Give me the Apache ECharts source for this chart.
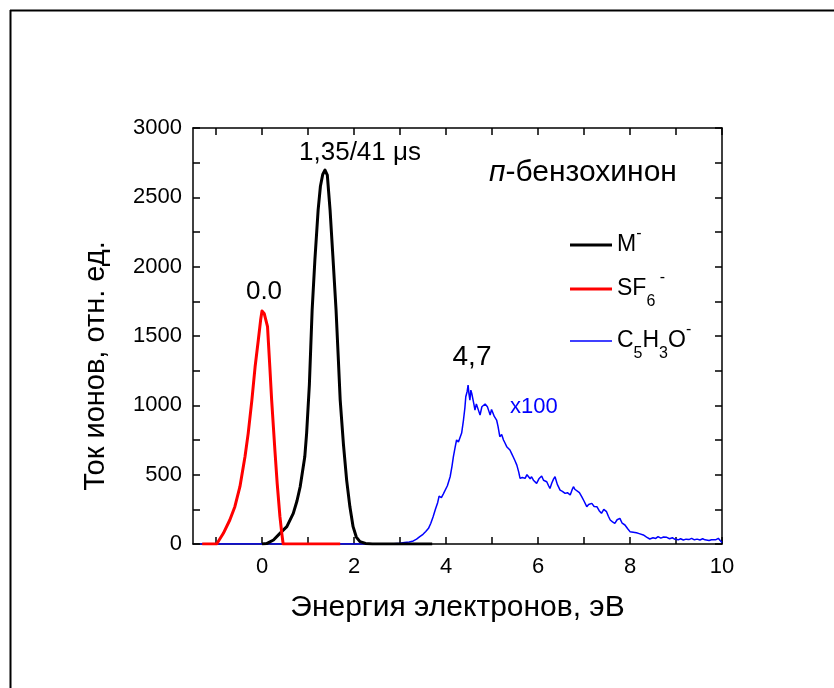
<!DOCTYPE html>
<html>
<head>
<meta charset="utf-8">
<script src="https://cdn.jsdelivr.net/npm/echarts@6/dist/echarts.min.js"></script>
<style>
html,body{margin:0;padding:0;background:#fff;}
#c{width:834px;height:688px;}
</style>
</head>
<body>
<div id="c"></div>
<script>
// ---- data ----
var xTickValues = [-1,0,1,2,3,4,5,6,7,8,9,10];
var xLabelValues = [0,2,4,6,8,10];
var yTickValues = [0,250,500,750,1000,1250,1500,1750,2000,2250,2500,2750,3000];
var yLabelValues = [0,500,1000,1500,2000,2500,3000];

var seriesNames = ['M', 'SF6', 'C5H3O'];

var mData = [[0,0],[0.1,3],[0.25,29],[0.4,80],[0.54,125],[0.68,221],[0.76,310],[0.83,413],[0.93,629],[0.97,798],[1.03,1150],[1.06,1420],[1.09,1687],[1.15,2050],[1.22,2408],[1.27,2580],[1.32,2665],[1.37,2697],[1.42,2660],[1.48,2408],[1.54,2080],[1.61,1687],[1.66,1330],[1.7,1038],[1.77,720],[1.84,461],[1.91,270],[1.98,125],[2.05,50],[2.13,17],[2.25,4],[2.4,0],[3.7,0]];

var sf6Data = [[-1.3,0],[-0.985,0],[-0.84,77],[-0.7,173],[-0.59,269],[-0.48,413],[-0.37,629],[-0.3,798],[-0.22,1038],[-0.15,1278],[-0.08,1471],[-0.03,1615],[0.0,1680],[0.05,1660],[0.12,1567],[0.17,1278],[0.21,1038],[0.28,678],[0.33,437],[0.39,197],[0.43,77],[0.46,0],[1.7,0]];

var c5Data = [[-1.35,0],[2.8,0],[3.0,5],[3.1,10],[3.2,15],[3.29,22],[3.36,35],[3.43,53],[3.5,70],[3.56,90],[3.62,113],[3.67,150],[3.72,197],[3.77,250],[3.82,300],[3.85,345],[3.9,335],[3.94,360],[3.98,353],[4.03,420],[4.09,485],[4.13,560],[4.16,629],[4.2,700],[4.23,750],[4.27,735],[4.30,726],[4.34,800],[4.38,894],[4.41,980],[4.43,1062],[4.46,1100],[4.48,1146],[4.5,1080],[4.52,1038],[4.54,1110],[4.56,1086],[4.6,1020],[4.63,966],[4.66,1010],[4.68,1002],[4.71,960],[4.74,930],[4.78,990],[4.81,1002],[4.85,1010],[4.9,990],[4.93,960],[4.96,930],[4.99,970],[5.01,954],[5.05,920],[5.1,894],[5.13,850],[5.17,774],[5.21,790],[5.25,750],[5.28,730],[5.32,702],[5.35,690],[5.39,678],[5.43,650],[5.46,629],[5.5,600],[5.54,569],[5.58,520],[5.61,473],[5.66,480],[5.72,473],[5.76,500],[5.79,509],[5.83,470],[5.86,485],[5.9,460],[5.94,450],[5.97,437],[6.02,470],[6.08,490],[6.12,460],[6.16,470],[6.19,449],[6.23,420],[6.26,401],[6.3,440],[6.34,470],[6.37,485],[6.42,430],[6.48,389],[6.53,380],[6.59,365],[6.64,370],[6.7,353],[6.74,390],[6.77,413],[6.8,395],[6.84,401],[6.9,370],[6.95,341],[7.0,310],[7.06,269],[7.1,285],[7.17,293],[7.22,270],[7.28,269],[7.33,240],[7.38,221],[7.43,250],[7.49,233],[7.53,200],[7.57,173],[7.62,160],[7.67,149],[7.72,175],[7.78,185],[7.83,150],[7.89,137],[7.95,110],[8.0,89],[8.07,85],[8.14,81],[8.2,75],[8.29,65],[8.36,50],[8.43,36],[8.5,45],[8.56,40],[8.61,53],[8.67,42],[8.73,50],[8.8,48],[8.86,38],[8.92,45],[8.98,34],[9.05,30],[9.1,38],[9.16,29],[9.22,35],[9.28,32],[9.34,41],[9.4,30],[9.46,35],[9.52,29],[9.58,38],[9.63,30],[9.67,34],[9.72,25],[9.77,30],[9.81,17],[9.86,30],[9.92,41],[9.96,25],[10.0,10]];

var FONT = '"Liberation Sans", Arial, Helvetica, sans-serif';

var chart = echarts.init(document.getElementById('c'), null, {renderer:'canvas'});

var legendRich = {
  base: {fontSize: 23, fontFamily: FONT, color: '#000', lineHeight: 30},
  sub: {fontSize: 16, fontFamily: FONT, color: '#000', verticalAlign: 'bottom', lineHeight: 16, padding: [0,0,-6,0]},
  sup: {fontSize: 16, fontFamily: FONT, color: '#000', verticalAlign: 'top', lineHeight: 16, padding: [-4,0,0,0]}
};
var legendLabels = {
  'M': '{base|M}{sup|-}',
  'SF6': '{base|SF}{sub|6}{sup| -}',
  'C5H3O': '{base|C}{sub|5}{base|H}{sub|3}{base|O}{sup|-}'
};
function mkLegend(name, top, color, h) {
  return {
    data: [{name: name, icon: 'rect', itemStyle: {color: color}}], left: 565, top: top, orient: 'vertical',
    itemWidth: 42, itemHeight: h, selectedMode: false,
    formatter: function (n) { return legendLabels[n]; },
    textStyle: {fontSize: 23, fontFamily: FONT, color: '#000', rich: legendRich}
  };
}

function xAxisDef(pos, labels) {
  return {
    type: 'value', min: -1.5, max: 10, position: pos,
    axisLine: {show: true, onZero: false, lineStyle: {color: '#000', width: 1.5}},
    axisTick: {show: true, inside: true, length: 7, customValues: xTickValues, lineStyle: {color: '#000', width: 1.5}},
    axisLabel: labels ? {show: true, customValues: xLabelValues, fontSize: 22, fontFamily: FONT, color: '#000', margin: 12,
      formatter: function (v) { return String(v); }} : {show: false},
    splitLine: {show: false},
    name: labels ? 'Энергия электронов, эВ' : '',
    nameLocation: 'middle', nameGap: 49,
    nameTextStyle: {fontSize: 30, fontFamily: FONT, color: '#000'}
  };
}
function yAxisDef(pos, labels) {
  return {
    type: 'value', min: 0, max: 3000, position: pos,
    axisLine: {show: true, onZero: false, lineStyle: {color: '#000', width: 1.5}},
    axisTick: {show: true, inside: true, length: 7, customValues: yTickValues, lineStyle: {color: '#000', width: 1.5}},
    axisLabel: labels ? {show: true, customValues: yLabelValues, fontSize: 22, fontFamily: FONT, color: '#000', margin: 11,
      formatter: function (v) { return String(v); }} : {show: false},
    splitLine: {show: false}
  };
}

var option = {
  backgroundColor: '#fff',
  animation: false,
  grid: {left: 193, right: 112, top: 128, bottom: 144, containLabel: false},
  xAxis: [xAxisDef('bottom', true), xAxisDef('top', false)],
  yAxis: [yAxisDef('left', true), yAxisDef('right', false)],
  legend: [mkLegend('M', 221, '#000', 3), mkLegend('SF6', 265, '#ff0000', 3), mkLegend('C5H3O', 317, '#0000ff', 1.5)],
  series: [
    {name: 'C5H3O', type: 'line', data: c5Data, xAxisIndex: 0, yAxisIndex: 0, showSymbol: false, symbol: 'none',
     lineStyle: {color: '#0000ff', width: 1.5}, itemStyle: {color: '#0000ff'}, z: 2},
    {name: 'M', type: 'line', data: mData, xAxisIndex: 0, yAxisIndex: 0, showSymbol: false, symbol: 'none',
     lineStyle: {color: '#000', width: 3, join: 'round'}, itemStyle: {color: '#000'}, z: 3},
    {name: 'SF6', type: 'line', data: sf6Data, xAxisIndex: 0, yAxisIndex: 0, showSymbol: false, symbol: 'none',
     lineStyle: {color: '#ff0000', width: 3, join: 'round'}, itemStyle: {color: '#ff0000'}, z: 4}
  ],
  graphic: [
    {type: 'line', shape: {x1: 10.5, y1: 10, x2: 10.5, y2: 688}, style: {stroke: '#000', lineWidth: 2}, silent: true},
    {type: 'line', shape: {x1: 10, y1: 10.5, x2: 834, y2: 10.5}, style: {stroke: '#000', lineWidth: 2}, silent: true},
    {type: 'text', x: 96, y: 366, rotation: Math.PI / 2, style: {text: 'Ток ионов, отн. ед.', font: '29px ' + FONT, fill: '#000', textAlign: 'center', textVerticalAlign: 'middle'}},
    {type: 'text', x: 360, y: 153, style: {text: '1,35/41 μs', font: '26px ' + FONT, fill: '#000', textAlign: 'center', textVerticalAlign: 'middle'}},
    {type: 'text', x: 264, y: 292, style: {text: '0.0', font: '26px ' + FONT, fill: '#000', textAlign: 'center', textVerticalAlign: 'middle'}},
    {type: 'text', x: 472, y: 357, style: {text: '4,7', font: '28px ' + FONT, fill: '#000', textAlign: 'center', textVerticalAlign: 'middle'}},
    {type: 'text', x: 510, y: 407, style: {text: 'x100', font: '22px ' + FONT, fill: '#0000ff', textAlign: 'left', textVerticalAlign: 'middle'}},
    {type: 'text', x: 489, y: 173, style: {
      text: '{i|п}{n|-бензохинон}', textAlign: 'left', textVerticalAlign: 'middle',
      rich: {i: {fontSize: 30, fontStyle: 'italic', fontFamily: FONT, color: '#000'},
             n: {fontSize: 30, fontFamily: FONT, color: '#000'}}}}
  ]
};
chart.setOption(option);
</script>
</body>
</html>
